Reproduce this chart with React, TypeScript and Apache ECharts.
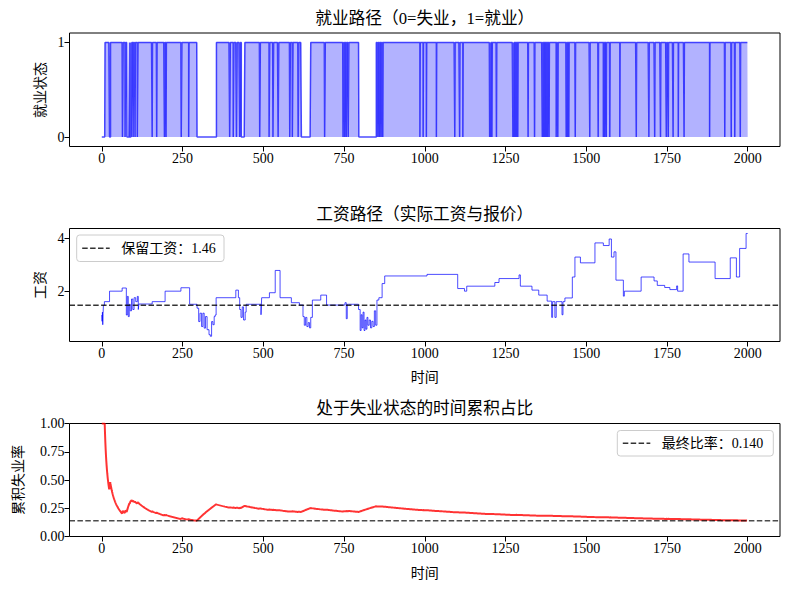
import React, { useEffect, useRef } from "react";
import * as echarts from "echarts";

// ---- data ----
const T_MAX = 2000;
const xTicks = [0, 250, 500, 750, 1000, 1250, 1500, 1750, 2000];
const empTicks = [0, 1];
const wageTicks = [2, 4];

// unemployment spells: [start, end) (periods with employment state 0)
const spellStart = [
  0, 24, 64, 72, 78, 87, 91, 97, 103, 110, 156, 170, 194, 199, 246, 269, 295,
  396, 407, 417, 427, 432, 489, 518, 530, 546, 582, 590, 608, 618, 690, 747, 752, 757, 763, 796,
  855, 860, 865, 870, 985, 995, 1005, 1036, 1093, 1108, 1118, 1201, 1204, 1208, 1222,
  1273, 1276, 1280, 1284, 1288, 1320, 1340, 1364, 1368, 1372, 1376, 1380, 1385, 1407, 1412,
  1438, 1442, 1446, 1466, 1511, 1537, 1553, 1557, 1562, 1573, 1604, 1655, 1694, 1712, 1730,
  1748, 1754, 1769, 1785, 1803, 1882, 1929, 1949, 1960, 1977,
];
const spellEnd = [
  10, 27, 66, 74, 86, 90, 93, 98, 104, 112, 157, 171, 195, 200, 248, 270, 355,
  398, 409, 419, 429, 443, 491, 520, 532, 548, 584, 592, 610, 647, 692, 749, 754, 759, 765, 850,
  856, 861, 866, 871, 986, 996, 1006, 1037, 1094, 1109, 1119, 1202, 1205, 1209, 1223,
  1274, 1277, 1281, 1285, 1289, 1321, 1341, 1365, 1369, 1373, 1377, 1381, 1386, 1408, 1413,
  1439, 1443, 1447, 1467, 1512, 1538, 1554, 1558, 1563, 1574, 1605, 1656, 1695, 1713, 1731,
  1749, 1755, 1770, 1786, 1804, 1883, 1930, 1950, 1961, 1978,
];

// wage path: value holds from wageT[i] until wageT[i+1]
const wageT = [
  0, 1, 2, 3, 4, 5, 8, 24, 63, 76, 79, 82, 85, 88, 92, 96, 100, 105, 110, 113, 115,
  156, 196, 245, 272, 295, 300, 304, 309, 313, 317, 321, 326, 332, 336, 340, 344, 348, 351,
  354, 415, 423, 427, 431, 435, 439, 444, 447, 451, 493, 495, 519, 537, 552, 587, 612,
  623, 627, 631, 635, 639, 643, 647, 652, 678, 696, 753, 757, 760, 764, 795,
  800, 803, 806, 809, 812, 815, 818, 821, 824, 828, 832, 836, 840, 844, 848, 852, 858, 868, 876,
  1007, 1102, 1123, 1130, 1217, 1230, 1292, 1296, 1332, 1353, 1379,
  1393, 1396, 1403, 1407, 1425, 1428, 1434, 1457, 1465, 1482, 1527, 1553, 1571, 1578, 1586,
  1592, 1615, 1618, 1670, 1710, 1720, 1743, 1759, 1780, 1783, 1800, 1818, 1899, 1946, 1965,
  1975, 1995, 2000,
];
const wageW = [
  1.09, 0.85, 1.2, 0.72, 1.15, 1.46, 1.6, 2.0, 2.12, 1.09, 1.8, 1.03, 1.5, 1.25, 1.7, 1.3, 1.75, 1.6, 1.8, 1.3, 1.51,
  1.6, 2.0, 2.13, 1.5, 1.35, 0.84, 1.16, 0.65, 1.16, 0.59, 1.03, 0.53, 0.34, 0.28, 0.84, 0.72, 1.03, 1.09,
  1.75, 2.04, 1.75, 1.3, 1.0, 1.4, 0.9, 1.2, 1.5, 1.5, 1.1, 1.75, 1.94, 2.79, 1.75, 1.56, 1.47,
  1.03, 0.7, 1.0, 0.65, 0.8, 0.6, 1.0, 1.66, 1.85, 1.47, 1.56, 0.95, 1.5, 1.5, 1.3,
  0.5, 1.1, 0.6, 1.2, 0.5, 0.9, 0.55, 1.0, 0.7, 0.9, 0.6, 0.85, 0.65, 1.25, 0.7, 1.66, 1.75, 2.29, 2.58,
  2.64, 2.1, 2.0, 2.19, 2.33, 2.48, 2.62, 2.19, 2.04, 1.85, 1.62,
  1.0, 1.6, 1.0, 1.6, 1.1, 1.6, 1.74, 2.54, 3.3, 3.08, 3.84, 3.74, 3.99, 3.3, 3.5,
  2.42, 1.81, 2.0, 2.54, 2.39, 2.22, 2.14, 2.06, 2.2, 2.0, 3.42, 3.11, 2.48, 3.27, 2.54,
  3.63, 4.2, 4.2,
];

const reservationWage = 1.46;
const finalRate = 0.14;

const FONT = "Liberation Serif, Noto Sans CJK SC, serif";

export default function App() {
  const ref = useRef<HTMLDivElement>(null);

  useEffect(() => {
    if (!ref.current) return;
    const chart = echarts.init(ref.current, undefined, { renderer: "svg" });

    // employment state per period
    const emp: number[] = [];
    for (let t = 0; t <= T_MAX; t++) emp.push(1);
    for (let i = 0; i < spellStart.length; i++) {
      for (let t = spellStart[i]; t < spellEnd[i] && t <= T_MAX; t++) emp[t] = 0;
    }
    const empData = emp.map((v, t) => [t, v]);
    // cumulative share of time unemployed
    let cum = 0;
    const rateData = emp.map((v, t) => {
      cum += 1 - v;
      return [t, cum / (t + 1)];
    });
    const wageData = wageT.map((t, i) => [t, wageW[i]]);

    const grids = [
      { left: 69.5, top: 33, width: 710.5, height: 113.5 },
      { left: 69.5, top: 228.5, width: 710.5, height: 113 },
      { left: 69.5, top: 423.5, width: 710.5, height: 113 },
    ].map((g) => ({ ...g, show: true, borderColor: "#000", borderWidth: 1, backgroundColor: "transparent" }));

    const labelStyle = { color: "#000", fontSize: 14, fontFamily: FONT, margin: 5 };

    const xAxis = [0, 1, 2].map((i) => ({
      type: "value",
      gridIndex: i,
      min: -100,
      max: 2100,
      position: "bottom",
      axisLine: { show: false, onZero: false },
      splitLine: { show: false },
      axisTick: { show: true, length: 5, customValues: xTicks, lineStyle: { color: "#000", width: 1 } },
      axisLabel: { ...labelStyle, customValues: xTicks, formatter: (v: number) => String(v) },
    }));

    const yCommon = {
      type: "value",
      position: "left",
      axisLine: { show: false, onZero: false },
      splitLine: { show: false },
    };
    const yAxis = [
      {
        ...yCommon,
        gridIndex: 0,
        min: -0.1,
        max: 1.1,
        axisTick: { show: true, length: 5, customValues: empTicks, lineStyle: { color: "#000" } },
        axisLabel: { ...labelStyle, customValues: empTicks, formatter: (v: number) => String(v) },
      },
      {
        ...yCommon,
        gridIndex: 1,
        min: 0.08,
        max: 4.39,
        axisTick: { show: true, length: 5, customValues: wageTicks, lineStyle: { color: "#000" } },
        axisLabel: { ...labelStyle, customValues: wageTicks, formatter: (v: number) => String(v) },
      },
      {
        ...yCommon,
        gridIndex: 2,
        min: 0,
        max: 1,
        interval: 0.25,
        axisTick: { show: true, length: 5, lineStyle: { color: "#000" } },
        axisLabel: { ...labelStyle, formatter: (v: number) => v.toFixed(2) },
      },
    ];

    const dash = [5.5, 2.4];
    const txt = (text: string, x: number, y: number, size: number, rot = 0) => ({
      type: "text",
      x,
      y,
      rotation: rot,
      z: 100,
      style: {
        text,
        fill: "#000",
        fontSize: size,
        fontFamily: FONT,
        textAlign: "center",
        textVerticalAlign: "middle",
      },
    });
    const legend = (x: number, y: number, w: number, h: number, label: string) => ({
      type: "group",
      z: 100,
      children: [
        {
          type: "rect",
          shape: { x, y, width: w, height: h, r: 3 },
          style: { fill: "rgba(255,255,255,0.8)", stroke: "#cccccc", lineWidth: 1 },
          z: 100,
        },
        {
          type: "line",
          shape: { x1: x + 5.5, y1: y + h / 2, x2: x + 33, y2: y + h / 2 },
          style: { stroke: "rgba(0,0,0,0.8)", lineWidth: 1.5, lineDash: dash },
          z: 101,
        },
        {
          type: "text",
          x: x + 44.5,
          y: y + h / 2,
          z: 101,
          style: {
            text: label,
            fill: "#000",
            fontSize: 14,
            fontFamily: FONT,
            textAlign: "left",
            textVerticalAlign: "middle",
          },
        },
      ],
    });

    const option = {
      animation: false,
      backgroundColor: "#fff",
      grid: grids,
      xAxis,
      yAxis,
      series: [
        {
          type: "line",
          xAxisIndex: 0,
          yAxisIndex: 0,
          data: empData,
          step: "end",
          showSymbol: false,
          symbol: "none",
          lineStyle: { color: "rgba(0,0,255,0.7)", width: 1.5 },
          areaStyle: { color: "rgb(0,0,255)", opacity: 0.3 },
        },
        {
          type: "line",
          xAxisIndex: 1,
          yAxisIndex: 1,
          data: wageData,
          step: "end",
          symbol: "none",
          lineStyle: { color: "rgba(0,0,255,0.7)", width: 1 },
        },
        {
          type: "line",
          xAxisIndex: 1,
          yAxisIndex: 1,
          data: [
            [-100, reservationWage],
            [2100, reservationWage],
          ],
          symbol: "none",
          lineStyle: { color: "rgba(0,0,0,0.8)", width: 1.5, type: dash },
        },
        {
          type: "line",
          xAxisIndex: 2,
          yAxisIndex: 2,
          data: rateData,
          symbol: "none",
          lineStyle: { color: "rgba(255,0,0,0.8)", width: 2 },
        },
        {
          type: "line",
          xAxisIndex: 2,
          yAxisIndex: 2,
          data: [
            [-100, finalRate],
            [2100, finalRate],
          ],
          symbol: "none",
          lineStyle: { color: "rgba(0,0,0,0.7)", width: 1.5, type: dash },
        },
      ],
      graphic: [
        txt("就业路径（0=失业，1=就业）", 424.75, 18, 16.7),
        txt("工资路径（实际工资与报价）", 424.75, 214, 16.7),
        txt("处于失业状态的时间累积占比", 424.75, 408, 16.7),
        txt("时间", 424.75, 377, 14),
        txt("时间", 424.75, 573, 14),
        txt("就业状态", 40, 90, 14, Math.PI / 2),
        txt("工资", 40, 285, 14, Math.PI / 2),
        txt("累积失业率", 18, 480, 14, Math.PI / 2),
        legend(76.7, 235, 147.3, 26.5, `保留工资：${reservationWage.toFixed(2)}`),
        legend(617.3, 430.5, 156, 25.5, `最终比率：${finalRate.toFixed(3)}`),
      ],
    };

    chart.setOption(option as any);
    return () => chart.dispose();
  }, []);

  return (
    <div
      ref={ref}
      style={{ position: "absolute", left: 0, top: 0, width: 790, height: 590 }}
    />
  );
}
